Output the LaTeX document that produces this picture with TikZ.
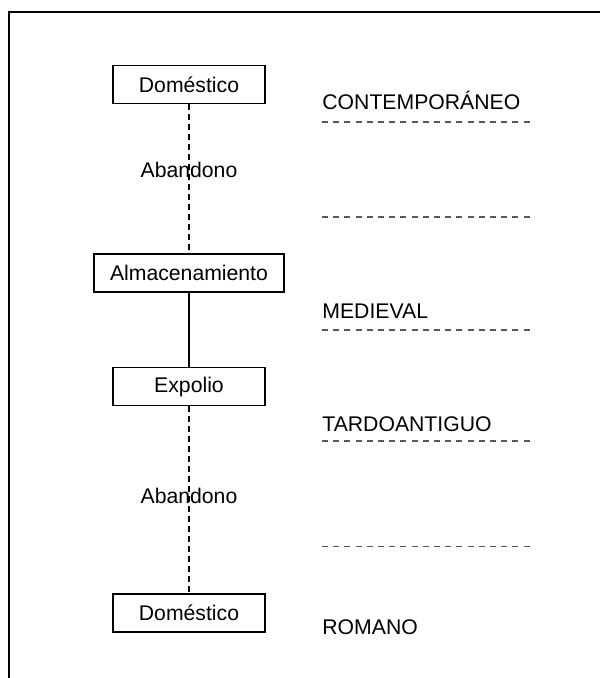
\documentclass[tikz,border=0pt]{standalone}
\usepackage{fontspec}
\setmainfont{Liberation Sans}
\begin{document}
\begin{tikzpicture}[x=0.5pt,y=-0.5pt,
	caja/.style={draw,line width=0.55pt,minimum width=76pt,minimum height=19pt,inner sep=0pt,font=\fontsize{10.6}{12}\selectfont},
	etiqueta/.style={inner sep=0pt,font=\fontsize{10.6}{12}\selectfont},
	fase/.style={anchor=base west,inner sep=0pt,font=\fontsize{10.6}{12}\selectfont},
	enlace/.style={line width=0.6pt,dash pattern=on 3pt off 2pt},
	corte/.style={line width=0.65pt,gray!70!black,dash pattern=on 3pt off 2.6pt}]
		\useasboundingbox (0,0) rectangle (600,678);
		\draw[line width=0.75pt] (9,678) -- (9,12) -- (600,12);

		\node[caja] (dom1) at (189,84.5) {Doméstico};
		\node[caja,minimum width=95pt] (alm) at (189,273) {Almacenamiento};
		\node[caja] (exp) at (189,386.8) {Expolio};
		\node[caja] (dom2) at (189,613) {Doméstico};

		\draw[enlace] (dom1) -- node[etiqueta,pos=0.44] (ab1) {Abandono} (alm);
		\draw[line width=0.8pt] (alm) -- (exp);
		\draw[enlace] (exp) -- node[etiqueta,pos=0.48] (ab2) {Abandono} (dom2);

		\foreach \y in {122, 217, 330, 441, 546.5} {\draw[corte] (322,\y) -- (530,\y);}

		\node[fase] (contemp) at (322,110) {CONTEMPORÁNEO};
		\node[fase] (medieval) at (322,318) {MEDIEVAL};
		\node[fase] (tardo) at (322,431) {TARDOANTIGUO};
		\node[fase] (romano) at (322,634) {ROMANO};
	\end{tikzpicture}
\end{document}
